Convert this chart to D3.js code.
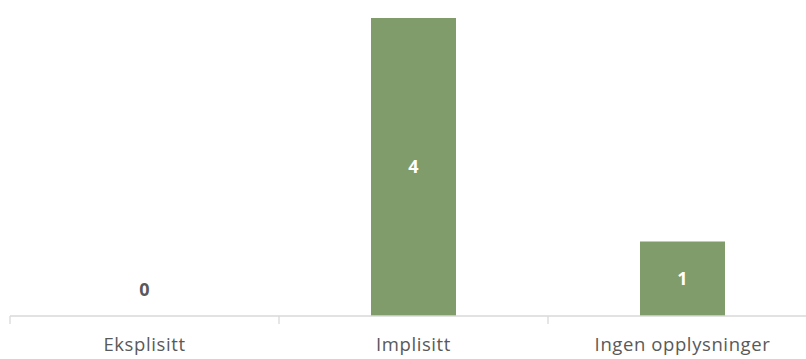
<!DOCTYPE html>
<html>
<head>
<meta charset="utf-8">
<script src="https://cdn.jsdelivr.net/npm/d3@7"></script>
<style>
  html, body { margin: 0; padding: 0; background: #fff; }
  svg { display: block; }
</style>
</head>
<body>
<svg width="806" height="359"></svg>
<script>
// Chart data
const categories = ['Eksplisitt', 'Implisitt', 'Ingen opplysninger'];
const values = [0, 4, 1];

const svg = d3.select('svg');
const baseY = 316;
const fontFamily = "'Open Sans', 'Noto Sans', sans-serif";

// Scales: each category gets an equal slot, the last one runs past the edge
const x = d3.scaleBand().domain(categories).range([10, 817]).padding(0);
const y = d3.scaleLinear().domain([0, 4]).range([baseY, 18]);
const barW = x.bandwidth() * 0.316;

// Bars
svg.selectAll('rect.bar')
  .data(categories)
  .join('rect')
  .attr('class', 'bar')
  .attr('x', d => x(d) + (x.bandwidth() - barW) / 2)
  .attr('width', barW)
  .attr('y', (d, i) => y(values[i]))
  .attr('height', (d, i) => baseY - y(values[i]))
  .attr('fill', '#7f9c6a');

// Axis line and ticks between categories
const axis = svg.append('g').attr('transform', `translate(0,${baseY})`);
axis.append('line')
  .attr('x1', x.range()[0]).attr('x2', x.range()[1])
  .attr('stroke', '#d9d9d9').attr('stroke-width', 1.3);
axis.selectAll('line.tick')
  .data(categories)
  .join('line')
  .attr('class', 'tick')
  .attr('x1', d => x(d)).attr('x2', d => x(d))
  .attr('y1', 0).attr('y2', 8)
  .attr('stroke', '#d9d9d9').attr('stroke-width', 1.3);

// Category labels
axis.selectAll('text')
  .data(categories)
  .join('text')
  .attr('x', d => x(d) + x.bandwidth() / 2)
  .attr('y', 35)
  .attr('text-anchor', 'middle')
  .attr('font-family', fontFamily)
  .attr('font-size', 18.5)
  .attr('letter-spacing', 0.6)
  .attr('fill', '#595959')
  .text(d => d);

// Value labels: inside the bar in white, or above the axis when zero
svg.selectAll('text.val')
  .data(categories)
  .join('text')
  .attr('class', 'val')
  .attr('x', d => x(d) + x.bandwidth() / 2)
  .attr('y', (d, i) => values[i] > 0 ? (y(values[i]) + baseY) / 2 : baseY - 26)
  .attr('dy', '0.35em')
  .attr('text-anchor', 'middle')
  .attr('font-family', fontFamily)
  .attr('font-size', 18)
  .attr('font-weight', 'bold')
  .attr('fill', (d, i) => values[i] > 0 ? '#ffffff' : '#595959')
  .text((d, i) => values[i]);
</script>
</body>
</html>
